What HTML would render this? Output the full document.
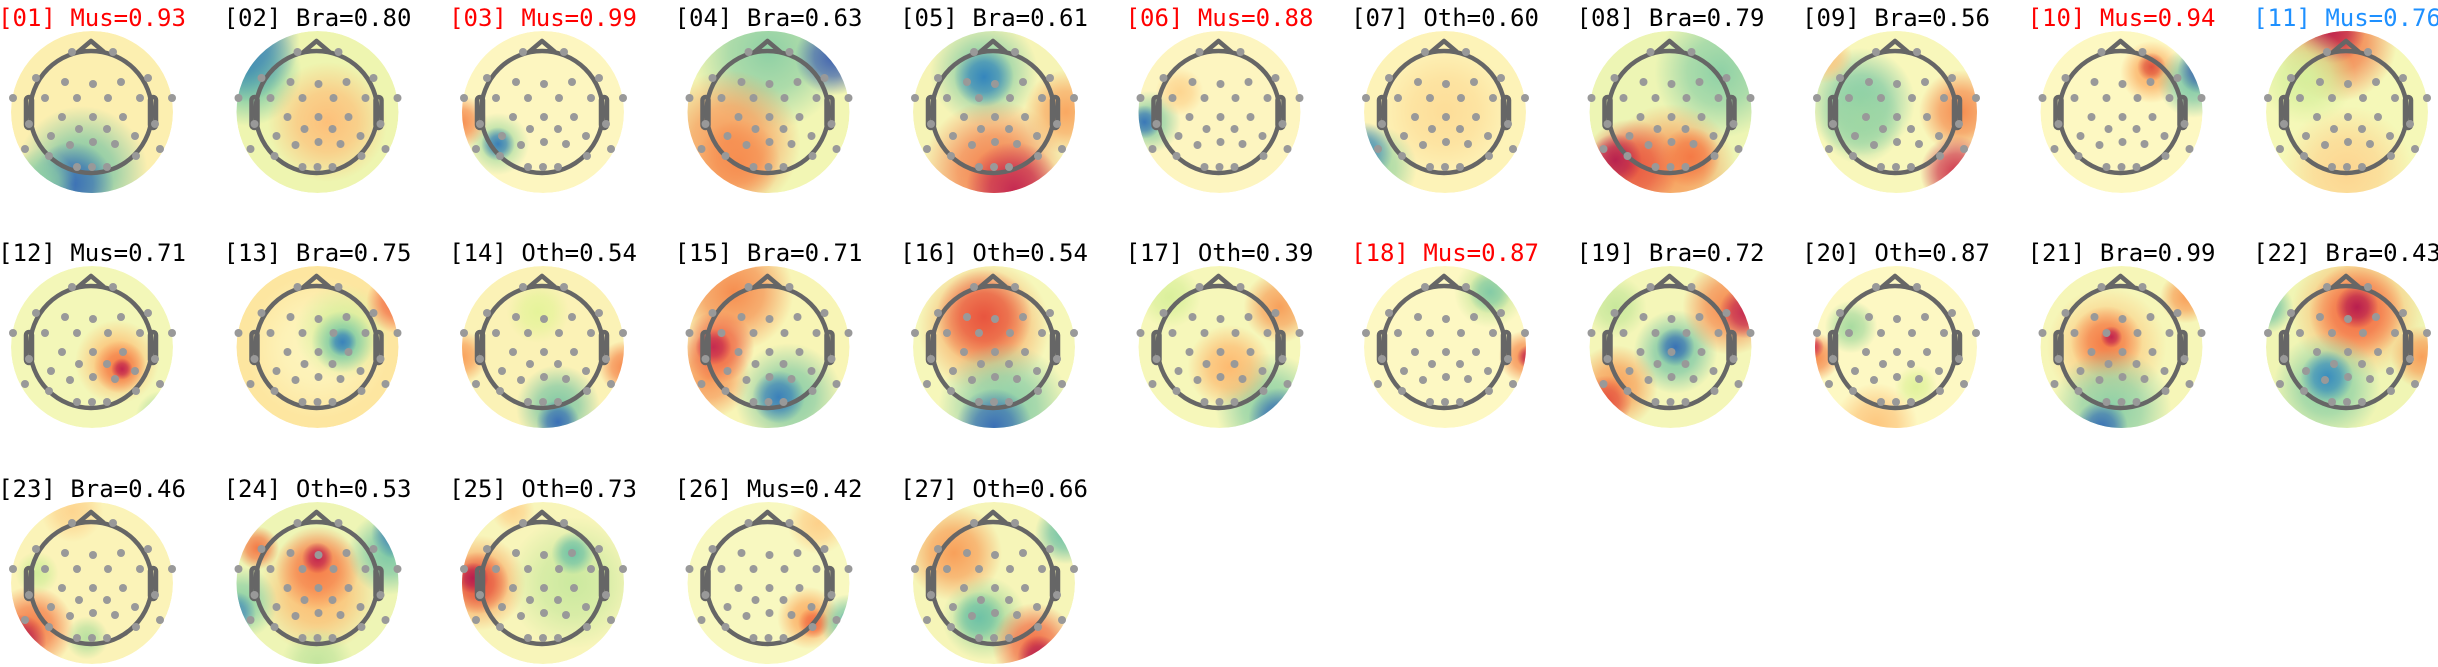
<!DOCTYPE html>
<html><head><meta charset="utf-8"><style>
html,body{margin:0;padding:0;background:#fff;width:2438px;height:667px;overflow:hidden;position:relative}
svg{display:block;position:absolute;left:0;top:0}
text{font-family:"DejaVu Sans Mono","Liberation Mono",monospace;font-size:24px}
</style></head><body>
<svg id="s" width="2438" height="667" xmlns="http://www.w3.org/2000/svg">
<defs id="d"></defs>
<g id="maps"></g>
<g id="titles" text-anchor="middle">
<text x="92" y="26" fill="#ff0000">[01] Mus=0.93</text>
<text x="317.5" y="26" fill="#000">[02] Bra=0.80</text>
<text x="543" y="26" fill="#ff0000">[03] Mus=0.99</text>
<text x="768.5" y="26" fill="#000">[04] Bra=0.63</text>
<text x="994" y="26" fill="#000">[05] Bra=0.61</text>
<text x="1219.5" y="26" fill="#ff0000">[06] Mus=0.88</text>
<text x="1445" y="26" fill="#000">[07] Oth=0.60</text>
<text x="1670.5" y="26" fill="#000">[08] Bra=0.79</text>
<text x="1896" y="26" fill="#000">[09] Bra=0.56</text>
<text x="2121.5" y="26" fill="#ff0000">[10] Mus=0.94</text>
<text x="2347" y="26" fill="#1e90ff">[11] Mus=0.76</text>
<text x="92" y="261" fill="#000">[12] Mus=0.71</text>
<text x="317.5" y="261" fill="#000">[13] Bra=0.75</text>
<text x="543" y="261" fill="#000">[14] Oth=0.54</text>
<text x="768.5" y="261" fill="#000">[15] Bra=0.71</text>
<text x="994" y="261" fill="#000">[16] Oth=0.54</text>
<text x="1219.5" y="261" fill="#000">[17] Oth=0.39</text>
<text x="1445" y="261" fill="#ff0000">[18] Mus=0.87</text>
<text x="1670.5" y="261" fill="#000">[19] Bra=0.72</text>
<text x="1896" y="261" fill="#000">[20] Oth=0.87</text>
<text x="2121.5" y="261" fill="#000">[21] Bra=0.99</text>
<text x="2347" y="261" fill="#000">[22] Bra=0.43</text>
<text x="92" y="497" fill="#000">[23] Bra=0.46</text>
<text x="317.5" y="497" fill="#000">[24] Oth=0.53</text>
<text x="543" y="497" fill="#000">[25] Oth=0.73</text>
<text x="768.5" y="497" fill="#000">[26] Mus=0.42</text>
<text x="994" y="497" fill="#000">[27] Oth=0.66</text>
</g>
</svg>
<script>
var P=[
["#fcefb0",[[-10,60,55,"#7cc6a4"],[-20,72,35,"#3a6fb6"],[-50,70,28,"#8fd0a5"]]],
["#eef5b0",[[-70,-40,45,"#6cc4a4"],[-78,-70,50,"#3a7fb8"],[10,10,50,"#fdc07a"]]],
["#fdf6c0",[[-45,32,26,"#abdda4"],[-45,32,14,"#3a80b8"],[-82,10,22,"#f68d50"]]],
["#f2f6b4",[[0,-60,65,"#8fd0a5"],[65,-55,32,"#3f62b0"],[-40,30,60,"#f7995a"],[-30,50,35,"#f68d50"]]],
["#f6f4b6",[[-10,-40,45,"#8ccfa6"],[-10,-35,25,"#3586bd"],[0,60,60,"#f47e4b"],[20,78,40,"#c52a52"],[72,0,35,"#f9a862"]]],
["#fdf5c0",[[-70,10,26,"#8fd0a5"],[-75,10,14,"#3a78b8"],[-40,-20,20,"#fdd590"]]],
["#fdf3b8",[[0,0,55,"#fddd98"],[-70,55,35,"#9fd7a4"],[-82,40,25,"#4a8fba"]]],
["#edf5b4",[[50,-40,55,"#8fd1a6"],[0,58,55,"#f89a58"],[-40,55,40,"#e8553f"],[20,45,25,"#f47a46"],[-55,48,22,"#b8224f"]]],
["#f8f7bb",[[-35,-10,45,"#7cc9a6"],[-35,10,35,"#9fd7a4"],[65,0,35,"#f68d50"],[60,60,30,"#d03a4f"],[-70,-55,22,"#fcc47e"]]],
["#fdf8c2",[[30,-40,26,"#fcad62"],[30,-45,12,"#e05540"],[72,-30,30,"#7ac7a6"],[80,-42,20,"#3f67b0"]]],
["#f5f8b8",[[-10,-70,50,"#f47a46"],[-15,-82,28,"#bf244f"],[-40,-35,40,"#d6ef9c"],[0,60,55,"#fdd590"]]],
["#f3f7b8",[[25,15,35,"#fdbd72"],[28,20,22,"#f47a46"],[30,22,9,"#c2254f"],[70,70,22,"#a6da9f"]]],
["#fde6a0",[[0,0,60,"#fdf6c0"],[25,-15,40,"#d6ef9c"],[25,-5,26,"#7ac8a6"],[25,-5,12,"#3a82bb"],[80,-45,26,"#f26c44"]]],
["#fbf2b6",[[15,60,35,"#7ec8a5"],[15,75,18,"#3a6fb6"],[-82,10,22,"#f9a05a"],[82,20,22,"#f6894e"],[-5,-35,26,"#e5f39a"]]],
["#f8f5b6",[[-35,-55,50,"#f68e50"],[-60,30,35,"#f7995a"],[-50,0,30,"#ef6443"],[-55,0,15,"#c52b50"],[20,50,45,"#86cca6"],[10,50,22,"#3b80ba"]]],
["#f6f7ba",[[-10,-20,55,"#f8a45e"],[-10,-30,40,"#e8553f"],[10,62,55,"#86cca6"],[0,80,32,"#3a6fb6"]]],
["#f6f7ba",[[50,60,45,"#8cd0a5"],[60,72,26,"#3a6fb6"],[60,-40,30,"#f7a05b"],[10,20,35,"#fdba70"],[-50,-50,26,"#daf09c"]]],
["#fdf8c3",[[80,10,22,"#f68d50"],[84,10,10,"#c2254f"],[45,-55,30,"#c6e69c"],[45,-55,18,"#84cba6"]]],
["#f4f6b8",[[5,5,35,"#7ac7a6"],[5,0,16,"#3a72b5"],[60,-40,40,"#f6884d"],[75,-35,22,"#c52a52"],[-55,40,35,"#f8a05a"],[-65,55,22,"#e5513f"],[-55,-40,26,"#c8e89c"]]],
["#fdf8c3",[[-80,10,20,"#f68d50"],[-84,0,10,"#d0334e"],[-45,-20,22,"#a8dba0"],[-20,78,35,"#fdc77f"],[20,40,18,"#e0f29c"]]],
["#f6f6b8",[[-15,0,50,"#fcc87f"],[-15,-5,30,"#f47a46"],[-10,-10,9,"#c2254f"],[-10,62,50,"#8ccfa6"],[-20,80,22,"#3a72b5"],[65,-50,22,"#f8a05a"]]],
["#f0f5b4",[[10,-35,55,"#fdb36a"],[10,-35,40,"#f26c44"],[10,-40,18,"#b81e4f"],[-20,40,45,"#8cd0a5"],[-20,30,22,"#3a8dbe"],[-80,-40,22,"#7ac7a6"],[75,10,26,"#f8a05a"]]],
["#fbf3b8",[[-60,45,35,"#f47a46"],[-72,58,22,"#b81e4f"],[-5,55,18,"#b9e1a0"],[-55,-10,18,"#d3ee9c"],[-20,-72,26,"#fdd590"]]],
["#eef5b5",[[0,10,50,"#fdbb70"],[0,-15,35,"#f57d49"],[0,-25,13,"#c2254f"],[-60,-35,18,"#f47a46"],[72,-30,35,"#7cc8a6"],[80,-50,22,"#3a7fb8"],[-76,20,30,"#8cd0a5"],[-83,30,18,"#4a8fba"],[0,80,30,"#c3e59e"]]],
["#f8f5ba",[[-65,0,40,"#f9a05a"],[-65,0,26,"#e5513f"],[-70,-5,13,"#b81e4f"],[30,0,55,"#cbe99f"],[30,-30,18,"#6fc2a6"],[-30,-72,18,"#fdd590"]]],
["#f8f8c0",[[40,35,26,"#fcad62"],[45,40,13,"#f26c44"],[80,40,24,"#7ac7a6"],[84,40,12,"#3a80bb"],[50,-60,26,"#fdd08a"]]],
["#f6f5b8",[[-40,-30,40,"#f8a05a"],[72,-50,26,"#6fc2a6"],[-10,35,35,"#a6da9f"],[-15,35,22,"#6fc2a6"],[40,62,35,"#f26c44"],[45,74,18,"#b81e4f"]]]
];
var E=[[-20,-60],[21,-60],[-56,-34],[-27,-30],[1,-28],[29,-30],[56,-34],[-79,-14],[-47,-14],[-15,-14],[16,-14],[48,-14],[80,-14],[-30,5],[1,5],[31,5],[-63,12],[63,12],[-13,17],[15,17],[-41,24],[43,24],[-67,37],[68,37],[-22,33],[1,30],[23,32],[-43,44],[44,44],[-15,55],[0,55],[15,55]];
var NS="http://www.w3.org/2000/svg",d=document.getElementById("d"),g=document.getElementById("maps"),gid=0;
function el(t,a,p){var e=document.createElementNS(NS,t);for(var k in a)e.setAttribute(k,a[k]);(p||g).appendChild(e);return e;}
P.forEach(function(p,i){
 var col=i<11?i:(i<22?i-11:i-22),row=i<11?0:(i<22?1:2);
 var cx=92+225.5*col,cy=[112,347,583][row],R=81;
 var cp=el("clipPath",{id:"c"+i},d);el("circle",{cx:cx,cy:cy,r:R},cp);
 var gg=el("g",{"clip-path":"url(#c"+i+")"});
 el("circle",{cx:cx,cy:cy,r:R,fill:p[0]},gg);
 p[1].forEach(function(b){
  var id="g"+(gid++);var rg=el("radialGradient",{id:id},d);
  el("stop",{offset:"0","stop-color":b[3],"stop-opacity":"1"},rg);
  el("stop",{offset:"0.5","stop-color":b[3],"stop-opacity":"0.7"},rg);
  el("stop",{offset:"1","stop-color":b[3],"stop-opacity":"0"},rg);
  el("circle",{cx:cx+b[0],cy:cy+b[1],r:b[2]*1.2,fill:"url(#"+id+")"},gg);
 });
 var st={fill:"none",stroke:"#666","stroke-width":4.5};
 el("circle",Object.assign({cx:cx-1,cy:cy,r:61},st));
 el("path",Object.assign({d:"M"+(cx-14)+" "+(cy-60)+" L"+(cx-1)+" "+(cy-71)+" L"+(cx+12)+" "+(cy-60),"stroke-linejoin":"round"},st));
 el("rect",Object.assign({x:cx-66,y:cy-15,width:6,height:31,rx:3},st));
 el("rect",Object.assign({x:cx+58,y:cy-15,width:6,height:31,rx:3},st));
 E.forEach(function(e){el("circle",{cx:cx+e[0],cy:cy+e[1],r:4,fill:"#999"});});
});
</script>
</body></html>
